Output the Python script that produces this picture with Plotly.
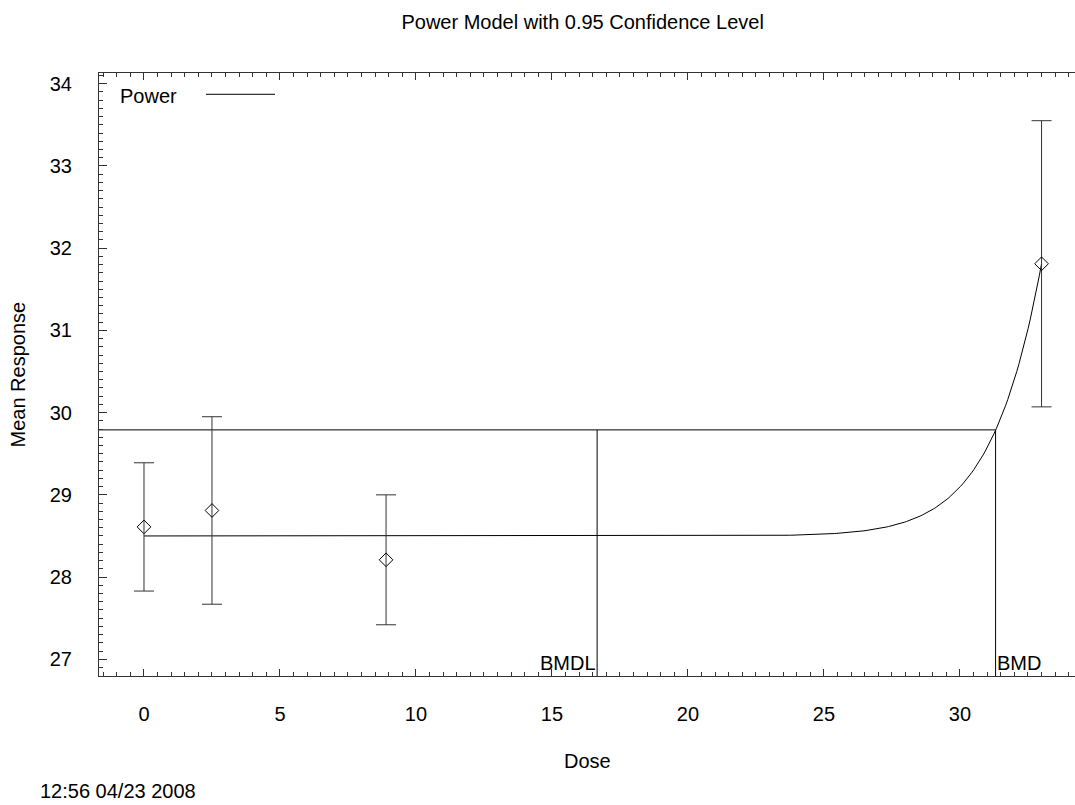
import numpy as np
import plotly.graph_objects as go

# ---- data ----
dose = [0, 2.5, 8.9, 33]
mean_resp = [28.61, 28.81, 28.21, 31.81]
ci_half = [0.78, 1.14, 0.79, 1.74]

# power model parameters (fitted curve)
g_bg = 28.5
power_n = 18
resp_at_max = 31.81
max_dose = 33.0
beta = (resp_at_max - g_bg) / max_dose ** power_n

bmd = 31.31
bmdl = 16.66
bmr_level = 29.79

x_ticks = [0, 5, 10, 15, 20, 25, 30]
y_ticks = [27, 28, 29, 30, 31, 32, 33, 34]

FONT = "Liberation Sans, Arial, sans-serif"
fs = 20

X_RANGE = [-1.654, 34.23]
Y_RANGE = [26.797, 34.130]

curve_x = np.linspace(0, max_dose, 400)
curve_y = g_bg + beta * curve_x ** power_n

fig = go.Figure()

# model curve
fig.add_trace(go.Scatter(x=curve_x, y=curve_y, mode="lines",
                         line=dict(color="black", width=1), showlegend=False,
                         hoverinfo="skip"))
# BMR horizontal line from left edge to BMD
fig.add_trace(go.Scatter(x=[X_RANGE[0], bmd], y=[bmr_level, bmr_level], mode="lines",
                         line=dict(color="black", width=1), showlegend=False,
                         hoverinfo="skip"))
# BMDL / BMD verticals
fig.add_trace(go.Scatter(x=[bmdl, bmdl], y=[Y_RANGE[0], bmr_level], mode="lines",
                         line=dict(color="black", width=1), showlegend=False,
                         hoverinfo="skip"))
fig.add_trace(go.Scatter(x=[bmd, bmd], y=[Y_RANGE[0], bmr_level], mode="lines",
                         line=dict(color="black", width=1), showlegend=False,
                         hoverinfo="skip"))
# data with error bars
fig.add_trace(go.Scatter(x=dose, y=mean_resp, mode="markers",
                         marker=dict(symbol="diamond-open", size=10.5,
                                     color="black", line=dict(width=1)),
                         error_y=dict(type="data", array=ci_half, visible=True,
                                      color="#333", thickness=1, width=10),
                         showlegend=False))

axis_common = dict(showgrid=False, zeroline=False, showline=True,
                   linecolor="#333", linewidth=1, ticks="inside",
                   tickcolor="#333", tickwidth=1,
                   tickfont=dict(family=FONT, size=fs, color="black"))

fig.update_xaxes(range=X_RANGE, tickvals=x_ticks, ticklen=7,
                 mirror="ticks", ticklabelstandoff=20,
                 minor=dict(ticks="inside", dtick=0.5, tick0=0, ticklen=4,
                            tickcolor="#333", showgrid=False),
                 **axis_common)
fig.update_yaxes(range=Y_RANGE, tickvals=y_ticks, ticklen=8,
                 mirror=False, ticklabelstandoff=22,
                 minor=dict(ticks="inside", dtick=0.1, tick0=0, ticklen=4,
                            tickcolor="#333", showgrid=False),
                 **axis_common)

annos = [
    dict(text="BMDL", x=bmdl, y=0, xref="x", yref="paper", xanchor="right",
         yanchor="bottom", showarrow=False, xshift=1),
    dict(text="BMD", x=bmd, y=0, xref="x", yref="paper", xanchor="left",
         yanchor="bottom", showarrow=False, xshift=-1),
    dict(text="Power", x=0.0195, y=0.9623, xref="paper", yref="paper",
         xanchor="left", yanchor="middle", showarrow=False),
    dict(text="Mean Response", x=-0.083, y=0.5, xref="paper", yref="paper",
         xanchor="center", yanchor="middle", textangle=-90, showarrow=False),
    dict(text="Dose", x=0.5, y=-0.141, xref="paper", yref="paper",
         xanchor="center", yanchor="middle", showarrow=False),
    dict(text="12:56 04/23 2008", x=-0.0625, y=-0.191, xref="paper",
         yref="paper", xanchor="left", yanchor="middle", showarrow=False),
]
for a in annos:
    a["font"] = dict(family=FONT, size=fs, color="black")
    fig.add_annotation(**a)

fig.add_shape(type="line", xref="paper", yref="paper", x0=0.1096, x1=0.1803,
              y0=0.9647, y1=0.9647, line=dict(color="black", width=1))

fig.update_layout(
    width=1075, height=805,
    margin=dict(l=99, r=0, t=73, b=129),
    paper_bgcolor="white", plot_bgcolor="white",
    title=dict(text="Power Model with 0.95 Confidence Level",
               x=0.542, xref="container", xanchor="center",
               y=1 - 22 / 805, yref="container", yanchor="middle",
               font=dict(family=FONT, size=fs, color="black")),
    showlegend=False,
)

fig.write_html("out.html",
               config={"displayModeBar": False},
               post_script="document.body.style.margin='0';"
                           "document.body.style.overflow='hidden';")
